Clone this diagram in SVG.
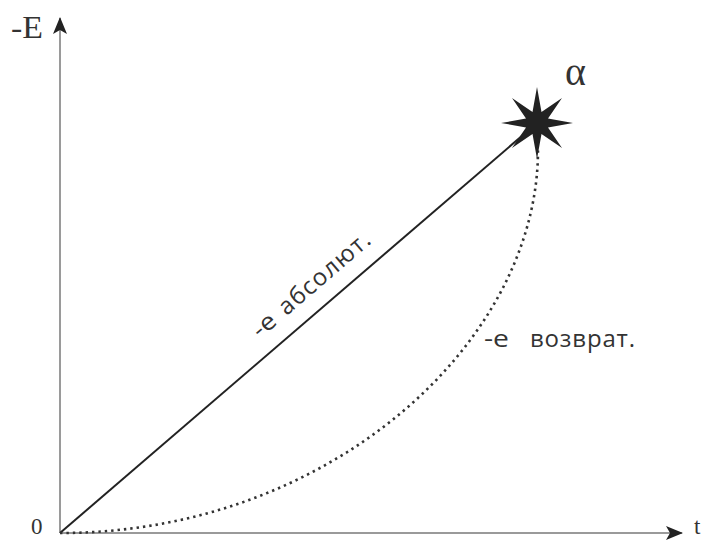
<svg xmlns="http://www.w3.org/2000/svg" width="704" height="540" viewBox="0 0 704 540">
  <style>
    .axis { stroke: #9a9a9a; stroke-width: 2; fill: none; }
    .solid { stroke: #222; stroke-width: 2; fill: none; }
    .dotted { stroke: #333; stroke-width: 2.6; fill: none; stroke-dasharray: 2.4 4; }
    .serif { font-family: "Liberation Serif", "Times New Roman", serif; fill: #333; }
    .sans { font-family: "Open Sans", "DejaVu Sans", sans-serif; font-size: 24px; fill: #333; }
  </style>
  <defs>
    <marker id="arrow" viewBox="0 0 17 14" refX="16" refY="7" markerWidth="17" markerHeight="14" markerUnits="userSpaceOnUse" orient="auto">
      <path d="M17,7 L0,0 L4,7 L0,14 Z" fill="#222"/>
    </marker>
  </defs>
  <g id="connectors">
    <line id="y-axis" class="axis" x1="60" y1="533" x2="60" y2="18" marker-end="url(#arrow)"/>
    <line id="x-axis" class="axis" x1="60" y1="533" x2="682" y2="533" marker-end="url(#arrow)"/>
    <line id="absolute" class="solid" x1="60" y1="533" x2="537" y2="123"/>
    <path id="return" class="dotted" d="M60,533 C329,533 538,343 538,150"/>
  </g>
  <g id="star">
    <polygon fill="#222" points="537,87 541.5,112 562,98 548,118.5 573,123 548,127.5 562,148 541.5,134 537,159 532.5,134 512,148 526,127.5 501,123 526,118.5 512,98 532.5,112"/>
    <text class="serif" x="565" y="85" font-size="40">α</text>
  </g>
  <g id="labels">
    <text id="label-E" class="serif" x="11" y="38" font-size="32" textLength="32" lengthAdjust="spacingAndGlyphs">-E</text>
    <text id="label-0" class="serif" x="31" y="534" font-size="23">0</text>
    <text id="label-t" class="serif" x="694" y="534" font-size="23">t</text>
    <g id="label-abs" transform="translate(260,339) rotate(-40.7)">
      <text class="sans"><tspan x="0" y="0" textLength="24" lengthAdjust="spacingAndGlyphs">-e</tspan><tspan x="35" y="0" textLength="113" lengthAdjust="spacing">абсолют.</tspan></text>
    </g>
    <text id="label-ret" class="sans"><tspan x="484" y="347" textLength="25" lengthAdjust="spacingAndGlyphs">-e</tspan><tspan x="530" y="347" textLength="105" lengthAdjust="spacing">возврат.</tspan></text>
  </g>
</svg>
